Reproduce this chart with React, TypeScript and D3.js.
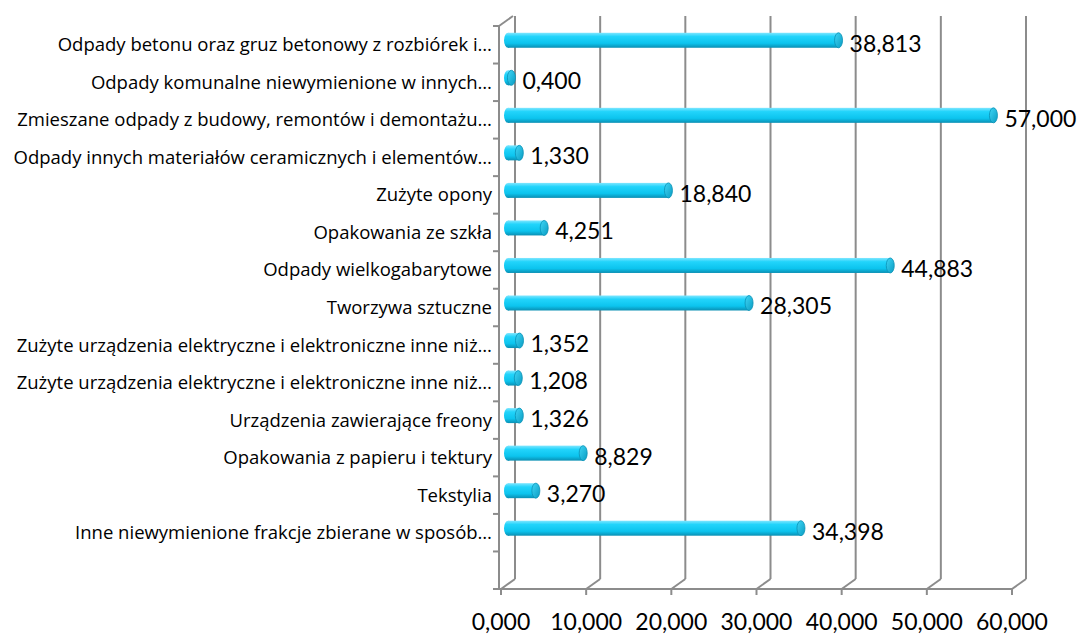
import React from "react";
import * as d3 from "d3";

// categories (top to bottom) and values
const categories = [
  "Odpady betonu oraz gruz betonowy z rozbiórek i…",
  "Odpady komunalne niewymienione w innych…",
  "Zmieszane odpady z budowy, remontów i demontażu…",
  "Odpady innych materiałów ceramicznych i elementów…",
  "Zużyte opony",
  "Opakowania ze szkła",
  "Odpady wielkogabarytowe",
  "Tworzywa sztuczne",
  "Zużyte urządzenia elektryczne i elektroniczne inne niż…",
  "Zużyte urządzenia elektryczne i elektroniczne inne niż…",
  "Urządzenia zawierające freony",
  "Opakowania z papieru i tektury",
  "Tekstylia",
  "Inne niewymienione frakcje zbierane w sposób…",
];
const values = [38.813, 0.4, 57.0, 1.33, 18.84, 4.251, 44.883, 28.305, 1.352, 1.208, 1.326, 8.829, 3.27, 34.398];
const ticks = [0, 10, 20, 30, 40, 50, 60];

const W = 1083;
const H = 634;
const FONT = "Lato, 'Open Sans', sans-serif";
const LABEL_FONT = "'Open Sans', sans-serif";

// 3D box geometry (front plane + depth offset)
const plot = { left: 499, right: 1012, top: 26, bottom: 589 };
const depth = { dx: 14, dy: -10 };

const fmt = d3.formatLocale({ decimal: ",", thousands: " ", grouping: [3], currency: ["", ""] }).format(".3f");

export default function App() {
  const xFront = d3.scaleLinear().domain([0, 60]).range([plot.left + 2, plot.right]);
  const xBack = (v: number) => xFront(v) + depth.dx;
  const xMid = (v: number) => xFront(v) + depth.dx / 2;

  const step = (plot.bottom - plot.top) / (categories.length + 1);
  const y = d3
    .scaleBand<number>()
    .domain(d3.range(categories.length))
    .range([plot.top, plot.top + step * categories.length]);

  const barH = 15;
  const capRx = 4;
  const grid = "#8c8c8c";

  return (
    <svg width={W} height={H} style={{ position: "fixed", left: 0, top: 0, background: "#fff" }}>
      <defs>
        <linearGradient id="cyl" x1="0" y1="0" x2="0" y2="1">
          <stop offset="0" stopColor="#7fe6ff" />
          <stop offset="0.25" stopColor="#22d4fb" />
          <stop offset="0.7" stopColor="#0cc4ee" />
          <stop offset="1" stopColor="#0a8fb3" />
        </linearGradient>
        <linearGradient id="cap" x1="0" y1="0" x2="1" y2="1">
          <stop offset="0" stopColor="#3fd6f6" />
          <stop offset="1" stopColor="#0a9cc2" />
        </linearGradient>
      </defs>

      {/* left wall */}
      <g stroke={grid} strokeWidth={2} fill="none">
        <line x1={plot.left} y1={plot.top} x2={plot.left} y2={plot.bottom} />
        <line x1={plot.left} y1={plot.top} x2={plot.left + depth.dx} y2={plot.top + depth.dy} />
        {/* floor front edge */}
        <line x1={plot.left} y1={plot.bottom} x2={plot.right} y2={plot.bottom} />
        {/* back wall gridlines + floor diagonals */}
        {ticks.map((t) => (
          <g key={t}>
            <line x1={xBack(t)} y1={plot.top + depth.dy} x2={xBack(t)} y2={plot.bottom + depth.dy} />
            <line x1={xBack(t)} y1={plot.bottom + depth.dy} x2={xFront(t)} y2={plot.bottom} />
            <line x1={xFront(t)} y1={plot.bottom} x2={xFront(t)} y2={plot.bottom + 6} />
          </g>
        ))}
        {/* category ticks on left wall */}
        {d3.range(categories.length + 2).map((i) => (
          <line key={i} x1={plot.left - 6} y1={plot.top + i * step} x2={plot.left} y2={plot.top + i * step} />
        ))}
      </g>

      {/* bars */}
      {values.map((v, i) => {
        const cy = (y(i) as number) + y.bandwidth() / 2 + depth.dy / 2 + 0.5;
        const x0 = xMid(0);
        const x1 = xMid(v);
        return (
          <g key={i}>
            <ellipse cx={x0} cy={cy} rx={capRx} ry={barH / 2} fill="url(#cyl)" />
            <rect x={x0} y={cy - barH / 2} width={Math.max(0, x1 - x0)} height={barH} fill="url(#cyl)" />
            <ellipse cx={x1} cy={cy} rx={capRx} ry={barH / 2} fill="url(#cap)" stroke="#0a90b5" strokeWidth={0.8} />
          </g>
        );
      })}

      {/* value labels */}
      {values.map((v, i) => (
        <text
          key={i}
          x={xMid(v) + 11}
          y={(y(i) as number) + y.bandwidth() / 2}
          dy="0.3em"
          fontFamily={FONT}
          fontSize={23}
          fill="#000"
        >
          {fmt(v)}
        </text>
      ))}

      {/* category labels */}
      {categories.map((c, i) => (
        <text
          key={i}
          x={plot.left - 7}
          y={(y(i) as number) + y.bandwidth() / 2}
          dy="0.35em"
          textAnchor="end"
          fontFamily={LABEL_FONT}
          fontSize={18.5}
          fill="#000"
        >
          {c}
        </text>
      ))}

      {/* x tick labels */}
      {ticks.map((t) => (
        <text
          key={t}
          x={xFront(t)}
          y={630}
          textAnchor="middle"
          fontFamily={FONT}
          fontSize={23}
          fill="#000"
        >
          {fmt(t)}
        </text>
      ))}
    </svg>
  );
}
